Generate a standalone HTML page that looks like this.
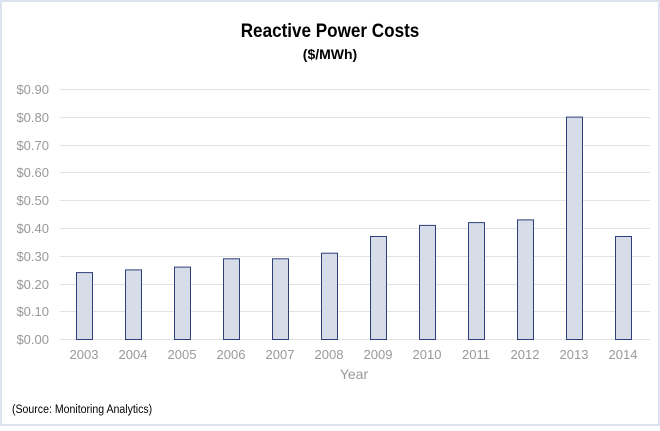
<!DOCTYPE html>
<html><head><style>
body{margin:0;width:660px;height:426px;background:#fff;overflow:hidden}
</style></head><body>
<svg width="660" height="426" xmlns="http://www.w3.org/2000/svg" font-family="Liberation Sans, sans-serif">
<rect x="1" y="1" width="658" height="424" fill="#fff" stroke="#dce4f0" stroke-width="2"/>
<text x="330" y="37" text-anchor="middle" font-size="19" font-weight="bold" transform="translate(330 0) scale(0.9 1) translate(-330 0)">Reactive Power Costs</text>
<text x="330" y="59" text-anchor="middle" font-size="14" font-weight="bold">($/MWh)</text>
<g stroke="#e3e3e3" stroke-width="1">
<line x1="60" x2="650" y1="89.5" y2="89.5"/><line x1="60" x2="650" y1="117.5" y2="117.5"/>
<line x1="60" x2="650" y1="145.5" y2="145.5"/><line x1="60" x2="650" y1="172.5" y2="172.5"/>
<line x1="60" x2="650" y1="200.5" y2="200.5"/><line x1="60" x2="650" y1="228.5" y2="228.5"/>
<line x1="60" x2="650" y1="256.5" y2="256.5"/><line x1="60" x2="650" y1="284.5" y2="284.5"/>
<line x1="60" x2="650" y1="311.5" y2="311.5"/><line x1="60" x2="650" y1="339.5" y2="339.5"/>
</g>
<g font-size="13" fill="#999" text-anchor="end">
<text x="49" y="94">$0.90</text><text x="49" y="122">$0.80</text><text x="49" y="150">$0.70</text>
<text x="49" y="177">$0.60</text><text x="49" y="205">$0.50</text><text x="49" y="233">$0.40</text>
<text x="49" y="261">$0.30</text><text x="49" y="289">$0.20</text><text x="49" y="316">$0.10</text>
<text x="49" y="344">$0.00</text>
</g>
<g fill="#d6dde9" stroke="#2e3f7a" stroke-width="1">
<rect x="76.5" y="272.6" width="16" height="66.9"/>
<rect x="125.5" y="269.9" width="16" height="69.6"/>
<rect x="174.5" y="267.1" width="16" height="72.4"/>
<rect x="223.5" y="258.8" width="16" height="80.7"/>
<rect x="272.5" y="258.8" width="16" height="80.7"/>
<rect x="321.5" y="253.2" width="16" height="86.3"/>
<rect x="370.5" y="236.5" width="16" height="103"/>
<rect x="419.5" y="225.4" width="16" height="114.1"/>
<rect x="468.5" y="222.6" width="16" height="116.9"/>
<rect x="517.5" y="219.9" width="16" height="119.6"/>
<rect x="566.5" y="117.1" width="16" height="222.4"/>
<rect x="615.5" y="236.5" width="16" height="103"/>
</g>
<g font-size="13" fill="#999" text-anchor="middle">
<text x="84" y="359">2003</text><text x="133" y="359">2004</text><text x="182" y="359">2005</text>
<text x="231" y="359">2006</text><text x="280" y="359">2007</text><text x="329" y="359">2008</text>
<text x="378" y="359">2009</text><text x="427" y="359">2010</text><text x="476" y="359">2011</text>
<text x="525" y="359">2012</text><text x="574" y="359">2013</text><text x="623" y="359">2014</text>
<text x="354" y="379" font-size="14">Year</text>
</g>
<text x="12" y="413" font-size="12" fill="#000" transform="translate(12 0) scale(0.88 1) translate(-12 0)">(Source: Monitoring Analytics)</text>
</svg>
</body></html>
